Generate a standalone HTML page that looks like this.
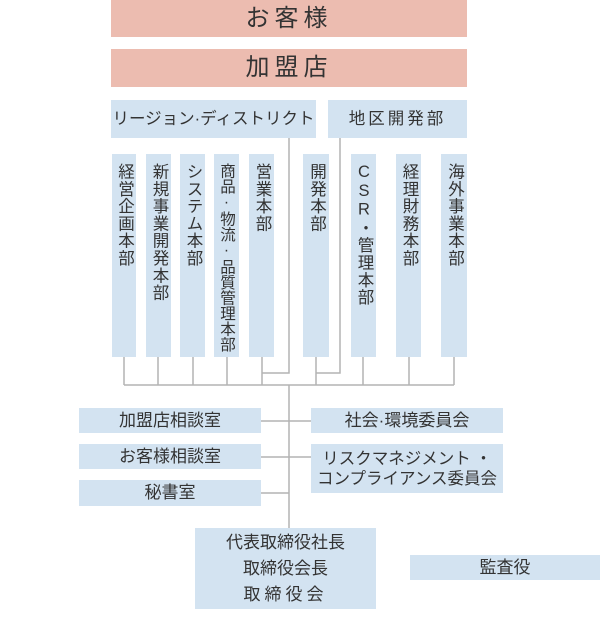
<!DOCTYPE html>
<html><head><meta charset="utf-8"><style>
body{margin:0;width:600px;height:624px;background:#fff;position:relative;overflow:hidden;font-family:"Liberation Sans","Noto Sans CJK JP",sans-serif;color:#333}
.b{position:absolute;background:#d3e3f1;display:flex;align-items:center;justify-content:center;text-align:center;font-size:17px;line-height:20px}
.b>div{white-space:nowrap}
.p{background:#ecbcb0;font-size:24px;letter-spacing:5px}
.v{position:absolute;background:#d3e3f1;top:154px;height:203px;writing-mode:vertical-rl;text-orientation:upright;font-size:16.5px;letter-spacing:0.8px;display:flex;align-items:center;justify-content:flex-start;padding-top:9px;box-sizing:border-box;white-space:nowrap;line-height:17px}
svg{position:absolute;left:0;top:0}
</style></head><body>
<svg width="600" height="624"><g stroke="#b3b3b3" stroke-width="1.5" fill="none">
<path d="M124 357V385M158 357V385M193 357V385M227 357V385M262 357V385M316 357V385M363 357V385M409 357V385M454 357V385M124 385H454"/>
<path d="M262 373H289V138M316 373H340V138"/>
<path d="M289 385V528M261 421H311M261 457H311M261 493H289"/>
</g></svg>
<div class="b p" style="left:111px;top:0;width:356px;height:37px">お客様</div>
<div class="b p" style="left:111px;top:49px;width:356px;height:38px">加盟店</div>
<div class="b" style="left:111px;top:100px;width:205px;height:38px;font-size:16.5px">リージョン·ディストリクト</div>
<div class="b" style="left:328px;top:100px;width:139px;height:38px;font-size:16.5px;letter-spacing:3px">地区開発部</div>
<div class="v" style="left:112px;width:24px">経営企画本部</div>
<div class="v" style="left:146px;width:25px">新規事業開発本部</div>
<div class="v" style="left:180px;width:25px">システム本部</div>
<div class="v" style="left:214px;width:25px;letter-spacing:0;font-size:15.5px">商品·物流·品質管理本部</div>
<div class="v" style="left:249px;width:25px">営業本部</div>
<div class="v" style="left:303px;width:26px">開発本部</div>
<div class="v" style="left:351px;width:25px">CSR・管理本部</div>
<div class="v" style="left:396px;width:25px">経理財務本部</div>
<div class="v" style="left:441px;width:26px">海外事業本部</div>
<div class="b" style="left:79px;top:408px;width:182px;height:25px">加盟店相談室</div>
<div class="b" style="left:79px;top:444px;width:182px;height:25px">お客様相談室</div>
<div class="b" style="left:79px;top:480px;width:182px;height:26px">秘書室</div>
<div class="b" style="left:311px;top:408px;width:192px;height:25px">社会·環境委員会</div>
<div class="b" style="left:311px;top:444px;width:192px;height:49px;font-size:16.5px"><div>リスクマネジメント ・<br>コンプライアンス委員会</div></div>
<div class="b" style="left:195px;top:528px;width:181px;height:81px;line-height:26px"><div>代表取締役社長<br>取締役会長<br><span style="letter-spacing:4px">取締役会</span></div></div>
<div class="b" style="left:410px;top:555px;width:190px;height:25px">監査役</div>
</body></html>
